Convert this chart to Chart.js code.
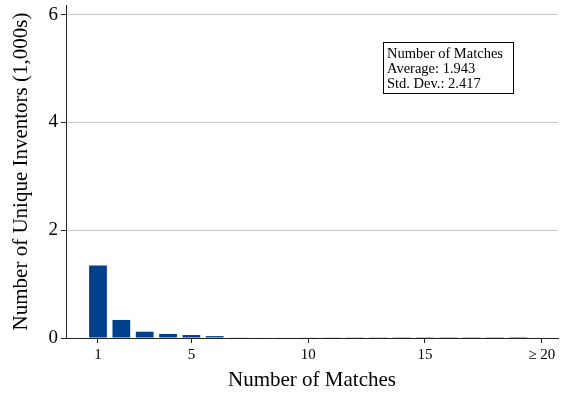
<!DOCTYPE html>
<html lang="en">
<head>
    <meta charset="UTF-8">
    <title>Number of Matches</title>
    <script src="https://cdn.jsdelivr.net/npm/chart.js"></script>
    <style>
        html, body { margin: 0; padding: 0; background: #fff; }
        #wrap { width: 562px; height: 396px; }
    </style>
</head>
<body>
    <div id="wrap"><canvas id="matchChart" width="562" height="396"></canvas></div>

    <script>
        // data (thousands of inventors per number of matches, last = 20 or more)
        const matches = [1, 2, 3, 4, 5, 6, 7, 8, 9, 10, 11, 12, 13, 14, 15, 16, 17, 18, 19, 20];
        const inventors = [1.345, 0.335, 0.117, 0.075, 0.055, 0.035, 0.012, 0.010, 0.008, 0.007,
                           0.006, 0.005, 0.005, 0.004, 0.004, 0.003, 0.003, 0.003, 0.002, 0.008];
        const xTicks = [1, 5, 10, 15, 20];
        const yTicks = [0, 2, 4, 6];
        const statLines = ['Number of Matches', 'Average: 1.943', 'Std. Dev.: 2.417'];

        const serif = 'Liberation Serif';
        const dark = '#222';

        // stats box in upper right
        const statsBox = {
            id: 'statsBox',
            afterDraw(chart) {
                const ctx = chart.ctx;
                ctx.save();
                ctx.strokeStyle = '#000';
                ctx.lineWidth = 1;
                ctx.strokeRect(383.5, 42.5, 130, 51);
                ctx.fillStyle = '#000';
                ctx.font = '14.5px "' + serif + '"';
                ctx.textBaseline = 'alphabetic';
                statLines.forEach((t, i) => ctx.fillText(t, 387, 58 + i * 15));
                ctx.restore();
            }
        };

        new Chart(document.getElementById('matchChart'), {
            type: 'bar',
            data: {
                datasets: [{
                    data: matches.map((m, i) => ({ x: m, y: inventors[i] })),
                    backgroundColor: '#003f8a',
                    borderWidth: 0,
                    barPercentage: 0.76,
                    categoryPercentage: 1
                }]
            },
            options: {
                responsive: false,
                animation: false,
                layout: { padding: { top: 5, right: 4, left: 0, bottom: 0 } },
                plugins: { legend: { display: false }, tooltip: { enabled: false } },
                scales: {
                    x: {
                        type: 'linear',
                        offset: false,
                        min: -0.37,
                        max: 20.7,
                        afterBuildTicks: s => { s.ticks = xTicks.map(v => ({ value: v })); },
                        afterFit: s => { s.height = 58; s.paddingLeft = 0; s.paddingRight = 0; },
                        ticks: {
                            font: { family: serif, size: 15 },
                            color: '#000',
                            padding: 3,
                            maxRotation: 0,
                            autoSkip: false,
                            callback: v => v === 20 ? '\u2265 20' : String(v)
                        },
                        grid: { offset: false, drawOnChartArea: false, tickLength: 5, tickColor: dark },
                        border: { color: dark, width: 1 },
                        title: {
                            display: true,
                            text: 'Number of Matches',
                            font: { family: serif, size: 21 },
                            color: '#000',
                            padding: { top: 2, bottom: 3 }
                        }
                    },
                    y: {
                        min: 0,
                        max: 6.18,
                        afterBuildTicks: s => { s.ticks = yTicks.map(v => ({ value: v })); },
                        afterFit: s => { s.width = 66; s.paddingTop = 0; s.paddingBottom = 0; },
                        ticks: {
                            font: { family: serif, size: 19 },
                            color: '#000',
                            padding: 3
                        },
                        grid: { color: '#c8c8c8', tickLength: 5, tickColor: dark },
                        border: { color: dark, width: 1 },
                        title: {
                            display: true,
                            text: 'Number of Unique Inventors (1,000s)',
                            font: { family: serif, size: 21 },
                            color: '#000',
                            padding: { top: 9, bottom: 2 }
                        }
                    }
                }
            },
            plugins: [statsBox]
        });
    </script>
</body>
</html>
